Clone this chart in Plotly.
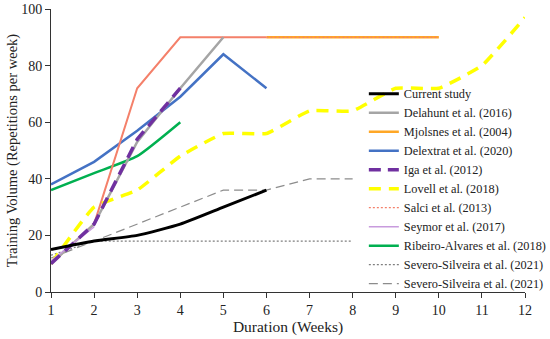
import plotly.graph_objects as go

current_x = [1, 2, 3, 4, 5, 6]
current_y = [15, 18, 20, 24, 30, 36]

delahunt_x = [1, 2, 3, 4, 5]
delahunt_y = [10, 24, 53, 72, 90]

mjolsnes_x = [6, 7, 8, 9, 10]
mjolsnes_y = [90, 90, 90, 90, 90]

delextrat_x = [1, 2, 3, 4, 5, 6]
delextrat_y = [38, 46, 57, 69, 84, 72]

iga_x = [1, 2, 3, 4]
iga_y = [10, 24, 54, 72]

lovell_x = list(range(1, 13))
lovell_y = [10, 30, 36, 48, 56, 56, 64, 64, 72, 72, 80, 97]

salci_solid_x = [1, 2, 3, 4, 5, 6]
salci_solid_y = [10, 24, 72, 90, 90, 90]
salci_x = [6, 7, 8, 9, 10]
salci_y = [90, 90, 90, 90, 90]

seymor_x = [1, 2]
seymor_y = [11, 23]

ribeiro_x = [1, 2, 3, 4]
ribeiro_y = [36, 42, 48, 60]

severo1_x = [1, 2, 3, 4, 5, 6, 7, 8]
severo1_y = [13, 18, 18, 18, 18, 18, 18, 18]

severo2_x = [1, 2, 3, 4, 5, 6, 7, 8]
severo2_y = [12, 18, 24, 30, 36, 36, 40, 40]

xticks = list(range(1, 13))
yticks = [0, 20, 40, 60, 80, 100]

FONT = "Liberation Serif, Times New Roman, DejaVu Serif, serif"

fig = go.Figure()

def add(x, y, name, color, width, dash="solid", rank=1, show=True, shape="linear", sm=0.5):
    fig.add_trace(go.Scatter(
        x=x, y=y, name=name, mode="lines",
        line=dict(color=color, width=width, dash=dash, shape=shape, smoothing=sm),
        legendrank=rank, showlegend=show, hoverinfo="skip"))

# drawing order (bottom to top)
add(severo1_x, severo1_y, "Severo-Silveira et al. (2021)", "#7F7F7F", 1.2, "2px,2px", 10)
add(severo2_x, severo2_y, "Severo-Silveira et al. (2021)", "#8C8C8C", 1.2, "9px,5px", 11)
add(ribeiro_x, ribeiro_y, "Ribeiro-Alvares et al. (2018)", "#00B050", 2.5, rank=9, shape="spline")
add(delextrat_x, delextrat_y, "Delextrat et al. (2020)", "#4472C4", 2.5, rank=4)
add(salci_solid_x, salci_solid_y, "Salci et al. (2013)", "#F4806A", 2, rank=7, show=False)
add(mjolsnes_x, mjolsnes_y, "Mjolsnes et al. (2004)", "#FFA726", 2.5, rank=3)
add(salci_x, salci_y, "Salci et al. (2013)", "#F4806A", 1.2, "2px,2px", 7)
add(lovell_x, lovell_y, "Lovell et al. (2018)", "#FFFF00", 3.5, "12px,8px", 6, shape="spline", sm=0.35)
add(delahunt_x, delahunt_y, "Delahunt et al. (2016)", "#A5A5A5", 2.5, rank=2)
add(seymor_x, seymor_y, "Seymor et al. (2017)", "#C89BDD", 1.5, rank=8)
add(iga_x, iga_y, "Iga et al. (2012)", "#7030A0", 3.5, "12px,7px", 5)
add(current_x, current_y, "Current study", "#000000", 3, rank=1, shape="spline", sm=0.5)

fig.update_layout(
    width=550, height=339,
    margin=dict(l=51, r=25, t=9, b=47, autoexpand=False),
    paper_bgcolor="white", plot_bgcolor="white",
    font=dict(family=FONT, size=12, color="#222"),
    legend=dict(x=0.66, y=0.752, xanchor="left", yanchor="top",
                bgcolor="rgba(0,0,0,0)", font=dict(family=FONT, size=12.3, color="#222"),
                traceorder="normal", itemwidth=30, tracegroupgap=0),
    xaxis=dict(range=[1, 12], tickvals=xticks, ticktext=[str(v) for v in xticks],
               showgrid=False, zeroline=False, showline=True, linecolor="#333", linewidth=1,
               ticks="outside", ticklen=5, tickcolor="#333", automargin=False,
               ticklabeloverflow="allow",
               tickfont=dict(family=FONT, size=14),
               title=dict(text="Duration (Weeks)", font=dict(family=FONT, size=15.5), standoff=4)),
    yaxis=dict(range=[0, 100], tickvals=yticks,
               showgrid=False, zeroline=False, showline=True, linecolor="#333", linewidth=1,
               ticks="outside", ticklen=5, tickcolor="#333", automargin=False,
               ticklabeloverflow="allow",
               tickfont=dict(family=FONT, size=14),
               title=dict(text="Training Volume (Repetitions per week)", font=dict(family=FONT, size=14.5), standoff=0)),
)

fig.write_html("out.html", config={"displayModeBar": False},
               post_script="document.body.style.margin='0';")
